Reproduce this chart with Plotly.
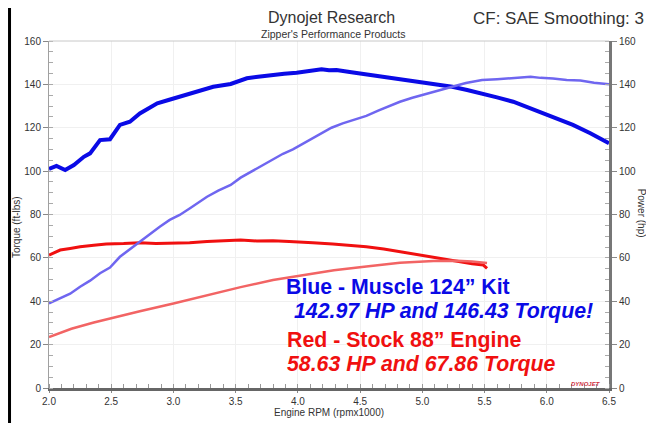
import plotly.graph_objects as go

# Blue - Muscle 124" kit, torque (ft-lbs)
blue_tq_rpm = [2.00, 2.01, 2.06, 2.13, 2.20, 2.28, 2.33, 2.41, 2.49, 2.57, 2.65, 2.73, 2.80,
               2.87, 2.96, 3.05, 3.19, 3.32, 3.46, 3.59, 3.68, 3.78, 3.89, 3.99, 4.09, 4.19,
               4.25, 4.31, 4.43, 4.55, 4.68, 4.82, 4.95, 5.10, 5.24, 5.36, 5.48, 5.60, 5.73,
               5.87, 6.00, 6.10, 6.21, 6.35, 6.48, 6.50]
blue_tq = [101.0, 101.3, 102.4, 100.5, 102.8, 106.6, 108.2, 114.3, 114.7, 121.3, 122.8, 126.6,
           129.0, 131.3, 132.8, 134.3, 136.6, 138.9, 140.2, 142.8, 143.5, 144.3, 144.9, 145.4,
           146.0, 147.0, 146.5, 146.6, 145.6, 144.6, 143.6, 142.5, 141.5, 140.3, 138.9, 137.4,
           135.9, 134.0, 132.0, 129.0, 125.9, 123.6, 121.3, 117.5, 113.3, 112.8]

# Blue - Muscle 124" kit, power (hp)
blue_hp_rpm = [2.00, 2.09, 2.17, 2.25, 2.33, 2.41, 2.49, 2.57, 2.65, 2.73, 2.81, 2.89, 2.97,
               3.05, 3.13, 3.20, 3.27, 3.36, 3.46, 3.54, 3.63, 3.72, 3.80, 3.88, 3.96, 4.02,
               4.10, 4.18, 4.27, 4.36, 4.45, 4.55, 4.65, 4.73, 4.82, 4.92, 5.02, 5.13, 5.24,
               5.35, 5.48, 5.60, 5.73, 5.87, 5.95, 6.05, 6.16, 6.27, 6.38, 6.50]
blue_hp = [39.0, 41.4, 43.5, 46.7, 49.5, 52.9, 55.5, 60.5, 64.0, 67.5, 71.0, 74.4, 77.5,
           79.8, 82.8, 85.5, 88.2, 91.0, 93.6, 97.0, 100.0, 103.0, 105.5, 108.0, 110.0, 112.0,
           114.5, 117.2, 120.0, 122.0, 123.8, 125.5, 128.0, 130.0, 132.0, 133.8, 135.5, 137.3,
           138.9, 140.6, 142.0, 142.4, 142.8, 143.5, 143.0, 142.7, 142.0, 141.8, 140.8, 140.0]

# Red - Stock 88" engine, torque (ft-lbs)
red_tq_rpm = [2.00, 2.09, 2.17, 2.25, 2.36, 2.46, 2.60, 2.73, 2.86, 3.00, 3.13, 3.27, 3.40,
              3.54, 3.67, 3.80, 3.93, 4.02, 4.12, 4.28, 4.42, 4.55, 4.69, 4.82, 4.95, 5.09,
              5.18, 5.28, 5.40, 5.49, 5.52]
red_tq = [61.3, 63.6, 64.3, 65.1, 65.8, 66.4, 66.6, 67.0, 66.6, 66.7, 67.0, 67.5, 67.8,
          68.2, 67.8, 67.9, 67.6, 67.4, 67.0, 66.4, 65.8, 65.1, 64.1, 62.8, 61.6, 60.3,
          59.3, 58.2, 57.3, 56.7, 55.2]

# Red - Stock 88" engine, power (hp)
red_hp_rpm = [2.00, 2.18, 2.36, 2.55, 2.73, 3.00, 3.27, 3.54, 3.80, 4.02, 4.15, 4.29, 4.55,
              4.82, 5.09, 5.28, 5.40, 5.52]
red_hp = [23.5, 27.3, 30.2, 33.0, 35.4, 39.0, 42.9, 46.5, 49.8, 51.8, 53.2, 54.3, 56.0,
          57.7, 58.6, 58.7, 58.3, 57.6]

x_ticks = [2.0, 2.5, 3.0, 3.5, 4.0, 4.5, 5.0, 5.5, 6.0, 6.5]
y_ticks = [0, 20, 40, 60, 80, 100, 120, 140, 160]

DARK_BLUE = "#0a0ae6"
LIGHT_BLUE = "#6f66f0"
RED = "#f01010"
LIGHT_RED = "#f26464"
TXT = "#333333"
FONT = "Liberation Sans, Arial, sans-serif"

fig = go.Figure()
fig.add_trace(go.Scatter(x=blue_hp_rpm, y=blue_hp, yaxis="y2", mode="lines",
                         line=dict(color=LIGHT_BLUE, width=2.5)))
fig.add_trace(go.Scatter(x=red_hp_rpm, y=red_hp, yaxis="y2", mode="lines",
                         line=dict(color=LIGHT_RED, width=2.5)))
fig.add_trace(go.Scatter(x=red_tq_rpm, y=red_tq, mode="lines",
                         line=dict(color=RED, width=3)))
fig.add_trace(go.Scatter(x=blue_tq_rpm, y=blue_tq, mode="lines",
                         line=dict(color=DARK_BLUE, width=4)))

axis_font = dict(family=FONT, size=10, color=TXT)

# page body adds 8px around the figure, so the figure is 8px smaller than the window
fig.update_layout(
    width=646, height=415,
    margin=dict(l=41, r=45, t=33, b=35, autoexpand=False),
    paper_bgcolor="white", plot_bgcolor="white",
    showlegend=False,
    font=dict(family=FONT, color=TXT),
    xaxis=dict(range=[2.0, 6.5], tickvals=x_ticks, ticktext=[f"{v:.1f}" for v in x_ticks],
               tickfont=axis_font, showgrid=True, gridcolor="#f0f0f0",
               showline=True, linecolor="#666666", linewidth=3,
               ticks="outside", ticklen=2, tickcolor="#888",
               minor=dict(dtick=0.1, ticks="inside", ticklen=4, tickcolor="#999", showgrid=False),
               automargin=False, zeroline=False, fixedrange=True),
    yaxis=dict(range=[0, 160], tickvals=y_ticks, tickfont=axis_font,
               showgrid=True, gridcolor="#f0f0f0",
               showline=True, linecolor="#a0a0a0", linewidth=1,
               ticks="outside", ticklen=5, tickcolor="#888",
               minor=dict(dtick=5, ticks="inside", ticklen=4, tickcolor="#aaa", showgrid=False),
               automargin=False, zeroline=False, fixedrange=True),
    yaxis2=dict(range=[0, 160], tickvals=y_ticks, tickfont=axis_font,
                overlaying="y", side="right", showgrid=False,
                showline=True, linecolor="#777777", linewidth=3,
                ticks="outside", ticklen=5, tickcolor="#888",
                minor=dict(dtick=5, ticks="inside", ticklen=4, tickcolor="#aaa"),
                automargin=False, zeroline=False, fixedrange=True),
)

# thin top frame line and outer black border
fig.add_shape(type="line", xref="paper", yref="paper", x0=0, x1=1, y0=1, y1=1,
              line=dict(color="#c8c8c8", width=1))
for xb in [-0.0705, 1.075]:
    fig.add_shape(type="line", xref="paper", yref="paper", x0=xb, x1=xb, y0=-0.12, y1=1.13,
                  line=dict(color="black", width=3))


def label(text, x, y, size, angle=0, xanchor="center"):
    fig.add_annotation(text=text, xref="paper", yref="paper", x=x, y=y, textangle=angle,
                       xanchor=xanchor, yanchor="middle", showarrow=False, borderpad=0,
                       font=dict(family=FONT, size=size, color=TXT))


# axis titles
label("Torque (ft-lbs)", -0.057, 0.464, 10, angle=-90)
label("Power (hp)", 1.058, 0.504, 10, angle=90)
label("Engine RPM (rpmx1000)", 0.5, -0.070, 10)

# header
label("Dynojet Research", 0.504, 1.0663, 16)
label("Zipper's Performance Products", 0.507, 1.0216, 10.5)
label("CF: SAE Smoothing: 3", 1.064, 1.0648, 17, xanchor="right")

# callouts
callouts = [
    ("<b>Blue - Muscle 124\u201d Kit</b>", 3.888, 46.6, DARK_BLUE),
    ("<b><i>142.97 HP and 146.43 Torque!</i></b>", 3.950, 35.7, DARK_BLUE),
    ("<b>Red - Stock 88\u201d Engine</b>", 3.896, 22.1, RED),
    ("<b><i>58.63 HP and 67.86 Torque</i></b>", 3.896, 11.2, RED),
]
for text, x, y, color in callouts:
    fig.add_annotation(text=text, x=x, y=y, xref="x", yref="y", xanchor="left",
                       yanchor="middle", showarrow=False,
                       font=dict(family=FONT, size=21.3, color=color))

# small logo mark in the corner
fig.add_annotation(text="<b><i>DYNOJET</i></b>", x=6.45, y=1.8, xref="x", yref="y",
                   xanchor="right", showarrow=False,
                   font=dict(family=FONT, size=6, color="#d03040"))

fig.write_html("out.html")
